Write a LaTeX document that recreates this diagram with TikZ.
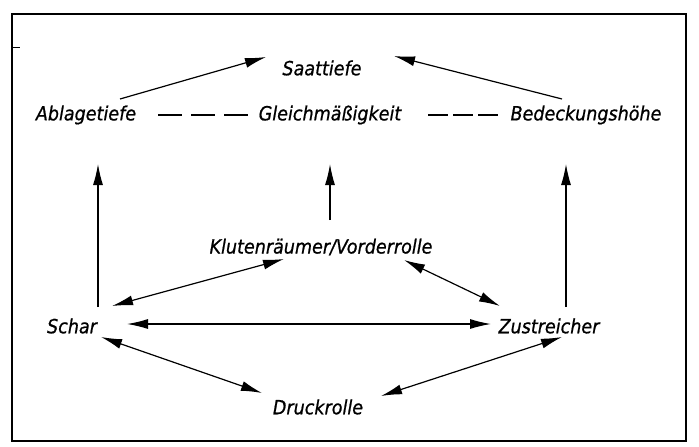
\documentclass[tikz,border=0pt]{standalone}
\usepackage{fontspec}
\setmainfont{DejaVu Sans Condensed}[ItalicFeatures={FakeBold=0.8}]
\usetikzlibrary{arrows.meta}
\begin{document}
\begin{tikzpicture}[x=1pt,y=-1pt,
  lbl/.style={font=\fontsize{19.5}{22}\selectfont\itshape, inner sep=2pt},
  arr/.style={line width=1.2pt,-{Latex[length=21pt,width=10pt]}},
  darr/.style={line width=1.2pt,{Latex[length=21pt,width=10pt]}-{Latex[length=21pt,width=10pt]}},
  dshl/.style={line width=1.3pt,dash pattern=on 24pt off 9pt},
  dshr/.style={line width=1.3pt,dash pattern=on 20pt off 5pt}]
\useasboundingbox (0,0) rectangle (699,447);
\draw[line width=1.6pt] (12,14) rectangle (686,441);
\draw[line width=1pt] (12,47) -- (20,47);
\node[lbl] (saat) at (322,68) {Saattiefe};
\node[lbl] (abl) at (86,115) {Ablagetiefe};
\node[lbl] (gle) at (330,115) {Gleichmäßigkeit};
\node[lbl] (bed) at (586,115) {Bedeckungshöhe};
\node[lbl] (klu) at (321,247) {Klutenräumer/Vorderrolle};
\node[lbl] (sch) at (72,326) {Schar};
\node[lbl] (zus) at (549,326) {Zustreicher};
\node[lbl] (dru) at (318,407) {Druckrolle};
\coordinate (a1) at (120,99);
\coordinate (a2) at (266,57);
\coordinate (b1) at (562,99);
\coordinate (b2) at (394,56);
\draw[arr] (a1) -- (a2);
\draw[arr] (b1) -- (b2);
\draw[dshl] (158,115) -- (250,115);
\draw[dshr] (428,115) -- (498,115);
\draw[arr] (98,307) -- (98,164);
\draw[arr] (330,220) -- (330,164);
\draw[arr] (566,307) -- (566,164);
\draw[darr] (284,259) -- (112,306);
\draw[darr] (404,260) -- (500,306);
\draw[darr] (127,324) -- (491,324);
\draw[darr] (101,337) -- (262,393);
\draw[darr] (562,337) -- (381,396);
\end{tikzpicture}
\end{document}
